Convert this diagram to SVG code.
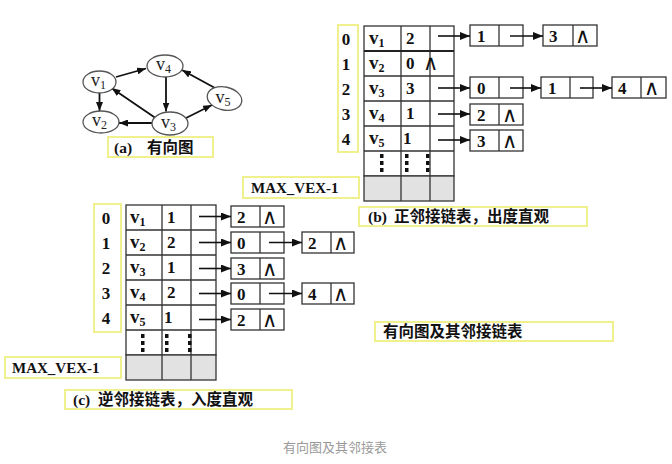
<svg xmlns="http://www.w3.org/2000/svg" width="672" height="464" viewBox="0 0 672 464">
<defs>
<marker id="ah" markerUnits="userSpaceOnUse" markerWidth="10" markerHeight="8" refX="10" refY="4" orient="auto"><path d="M0,0 L10,4 L0,8 z" fill="#111"/></marker>
<marker id="gh" markerUnits="userSpaceOnUse" markerWidth="9" markerHeight="7" refX="9" refY="3.5" orient="auto"><path d="M0,0 L9,3.5 L0,7 z" fill="#111"/></marker>
<style>
.cell{fill:#fff;stroke:#333;stroke-width:1.3}
.gray{fill:#e2e2e2;stroke:#333;stroke-width:1.3}
.ln{stroke:#333;stroke-width:1.3;fill:none}
.yb{fill:#fff;stroke:#f0f08c;stroke-width:2}
.t{font-family:'Liberation Serif','Noto Sans CJK SC',serif;font-weight:bold;fill:#111}
.num{font-size:17px}
.v{font-size:19px}
.sub{font-size:12px}
.nil{font-family:'DejaVu Sans',sans-serif;font-weight:200;font-size:21px;fill:#111;text-anchor:middle}
.cap{font-family:'Liberation Serif','Noto Sans CJK SC',serif;font-weight:bold;font-size:15.5px;fill:#111}
.cjk{font-family:'Noto Sans CJK SC',sans-serif;font-weight:bold}
.arr{stroke:#111;stroke-width:1.6;fill:none;marker-end:url(#ah)}
.ga{stroke:#111;stroke-width:1.8;fill:none;marker-end:url(#gh)}
.el{fill:#fff;stroke:#555;stroke-width:1.3}
.gt{font-family:'Liberation Serif',serif;font-size:18px;fill:#222}
.gs{font-size:12px}
.dot{fill:#111}
</style>
</defs>
<rect width="672" height="464" fill="#fff"/>

<!-- (a) graph -->
<g id="graph-a">
<g id="edges-a">
<line class="ga" x1="116" y1="77" x2="146" y2="68.5"/>
<line class="ga" x1="99.5" y1="93" x2="99.5" y2="111"/>
<line class="ga" x1="166" y1="77" x2="166" y2="111.5"/>
<line class="ga" x1="157" y1="119" x2="111.5" y2="88"/>
<line class="ga" x1="152" y1="123" x2="119" y2="123"/>
<line class="ga" x1="186" y1="118" x2="212" y2="105"/>
<line class="ga" x1="215" y1="88" x2="182" y2="70"/>
</g>
<g id="node-v1"><ellipse class="el" cx="99.5" cy="82" rx="16.5" ry="11"/><text class="gt" x="91" y="86">v<tspan class="gs" dy="3">1</tspan></text></g>
<g id="node-v4"><ellipse class="el" cx="165" cy="66" rx="18" ry="11"/><text class="gt" x="156" y="70">v<tspan class="gs" dy="3">4</tspan></text></g>
<g id="node-v5"><ellipse class="el" cx="224.5" cy="98.5" rx="17.5" ry="11.5" transform="rotate(12 224.5 98.5)"/><text class="gt" x="215.5" y="103">v<tspan class="gs" dy="3">5</tspan></text></g>
<g id="node-v2"><ellipse class="el" cx="101" cy="122" rx="18" ry="11"/><text class="gt" x="92" y="126">v<tspan class="gs" dy="3">2</tspan></text></g>
<g id="node-v3"><ellipse class="el" cx="170" cy="123.5" rx="18" ry="11.5"/><text class="gt" x="161" y="127.5">v<tspan class="gs" dy="3">3</tspan></text></g>
<g id="cap-a"><rect class="yb" x="108" y="137" width="105" height="20"/><text class="cap" x="114" y="152.5">(a)<tspan class="cjk" x="147">有向图</tspan></text></g>
</g>

<!-- (b) forward adjacency list -->
<g id="table-b">
<rect class="yb" x="338" y="25" width="20" height="127"/>
<g class="t num" text-anchor="middle">
<text x="346" y="44.5">0</text><text x="346" y="69.5">1</text><text x="346" y="94.5">2</text><text x="346" y="119.5">3</text><text x="346" y="144.5">4</text>
</g>
<rect class="cell" x="364" y="26" width="90" height="150"/>
<rect class="gray" x="364" y="176" width="90" height="25"/>
<path class="ln" d="M364,76H454M364,101H454M364,126H454M364,151H454M401,26V201M430,26V201"/>
<line x1="364" y1="51" x2="454" y2="51" stroke="#222" stroke-width="2.2"/>
<g class="t">
<text class="v" x="369" y="44">v<tspan class="sub" dy="3">1</tspan></text>
<text class="v" x="369" y="69">v<tspan class="sub" dy="3">2</tspan></text>
<text class="v" x="369" y="94">v<tspan class="sub" dy="3">3</tspan></text>
<text class="v" x="369" y="119">v<tspan class="sub" dy="3">4</tspan></text>
<text class="v" x="369" y="144">v<tspan class="sub" dy="3">5</tspan></text>
<text class="num" x="406" y="44">2</text>
<text class="num" x="406" y="69">0</text>
<text class="num" x="406" y="94">3</text>
<text class="num" x="406" y="119">1</text>
<text class="num" x="403" y="144">1</text>
</g>
<text class="nil" x="430" y="70">∧</text>
<g class="dot">
<rect x="380" y="154" width="3.5" height="4"/><rect x="380" y="161" width="3.5" height="4"/><rect x="380" y="168" width="3.5" height="4"/>
<rect x="405" y="154" width="3.5" height="4"/><rect x="405" y="161" width="3.5" height="4"/><rect x="405" y="168" width="3.5" height="4"/>
<rect x="426" y="154" width="3.5" height="4"/><rect x="426" y="161" width="3.5" height="4"/><rect x="426" y="168" width="3.5" height="4"/>
</g>
<g id="maxvex-b"><rect class="yb" x="243" y="177" width="116" height="21"/><text class="t" font-size="15" x="251" y="193">MAX_VEX-1</text></g>
</g>

<g id="nodes-b">
<g id="b-r0n1"><rect class="cell" x="470" y="25" width="53" height="21"/><line class="ln" x1="499" y1="25" x2="499" y2="46"/><text class="t num" x="477" y="42">1</text></g>
<g id="b-r0n2"><rect class="cell" x="543" y="25" width="54" height="21"/><line class="ln" x1="573" y1="25" x2="573" y2="46"/><text class="t num" x="549" y="42">3</text><text class="nil" x="582" y="43">∧</text></g>
<g id="b-r2n1"><rect class="cell" x="470" y="77" width="53" height="21"/><line class="ln" x1="499" y1="77" x2="499" y2="98"/><text class="t num" x="477" y="94">0</text></g>
<g id="b-r2n2"><rect class="cell" x="541" y="77" width="52" height="21"/><line class="ln" x1="570" y1="77" x2="570" y2="98"/><text class="t num" x="548" y="94">1</text></g>
<g id="b-r2n3"><rect class="cell" x="612" y="77" width="54" height="21"/><line class="ln" x1="641" y1="77" x2="641" y2="98"/><text class="t num" x="618" y="94">4</text><text class="nil" x="651" y="95">∧</text></g>
<g id="b-r3n1"><rect class="cell" x="470" y="104" width="53" height="21"/><line class="ln" x1="499" y1="104" x2="499" y2="125"/><text class="t num" x="477" y="121">2</text><text class="nil" x="509" y="122">∧</text></g>
<g id="b-r4n1"><rect class="cell" x="470" y="130" width="53" height="21"/><line class="ln" x1="499" y1="130" x2="499" y2="151"/><text class="t num" x="477" y="147">3</text><text class="nil" x="509" y="148">∧</text></g>
</g>

<g id="cap-b"><rect class="yb" x="359" y="207" width="228" height="19"/><text class="cap" x="368" y="222">(b)<tspan class="cjk" x="394">正邻接链表，出度直观</tspan></text></g>

<!-- (c) inverse adjacency list -->
<g id="table-c">
<rect class="yb" x="94" y="204" width="27" height="128"/>
<g class="t num" text-anchor="middle">
<text x="106" y="224">0</text><text x="106" y="249">1</text><text x="106" y="274">2</text><text x="106" y="299">3</text><text x="106" y="324">4</text>
</g>
<rect class="cell" x="126" y="205" width="90" height="150"/>
<rect class="gray" x="126" y="355" width="90" height="25"/>
<path class="ln" d="M126,230H216M126,255H216M126,280H216M126,305H216M126,330H216M162,205V380M191,205V380"/>
<g class="t">
<text class="v" x="130" y="223">v<tspan class="sub" dy="3">1</tspan></text>
<text class="v" x="130" y="248">v<tspan class="sub" dy="3">2</tspan></text>
<text class="v" x="130" y="273">v<tspan class="sub" dy="3">3</tspan></text>
<text class="v" x="130" y="298">v<tspan class="sub" dy="3">4</tspan></text>
<text class="v" x="130" y="323">v<tspan class="sub" dy="3">5</tspan></text>
<text class="num" x="167" y="223">1</text>
<text class="num" x="167" y="248">2</text>
<text class="num" x="167" y="273">1</text>
<text class="num" x="167" y="298">2</text>
<text class="num" x="164" y="323">1</text>
</g>
<g class="dot">
<rect x="141" y="334" width="3.5" height="4"/><rect x="141" y="341" width="3.5" height="4"/><rect x="141" y="348" width="3.5" height="4"/>
<rect x="165" y="334" width="3.5" height="4"/><rect x="165" y="341" width="3.5" height="4"/><rect x="165" y="348" width="3.5" height="4"/>
<rect x="188" y="334" width="3.5" height="4"/><rect x="188" y="341" width="3.5" height="4"/><rect x="188" y="348" width="3.5" height="4"/>
</g>
<g id="maxvex-c"><rect class="yb" x="5" y="357" width="116" height="21"/><text class="t" font-size="15" x="12" y="373">MAX_VEX-1</text></g>
</g>

<g id="nodes-c">
<g id="c-r0n1"><rect class="cell" x="231" y="206" width="53" height="21"/><line class="ln" x1="260" y1="206" x2="260" y2="227"/><text class="t num" x="237" y="223">2</text><text class="nil" x="269" y="224">∧</text></g>
<g id="c-r1n1"><rect class="cell" x="231" y="232" width="53" height="21"/><line class="ln" x1="260" y1="232" x2="260" y2="253"/><text class="t num" x="237" y="249">0</text></g>
<g id="c-r1n2"><rect class="cell" x="302" y="232" width="52" height="21"/><line class="ln" x1="331" y1="232" x2="331" y2="253"/><text class="t num" x="308" y="249">2</text><text class="nil" x="340" y="250">∧</text></g>
<g id="c-r2n1"><rect class="cell" x="231" y="258" width="53" height="21"/><line class="ln" x1="260" y1="258" x2="260" y2="279"/><text class="t num" x="237" y="275">3</text><text class="nil" x="269" y="276">∧</text></g>
<g id="c-r3n1"><rect class="cell" x="231" y="283" width="53" height="21"/><line class="ln" x1="260" y1="283" x2="260" y2="304"/><text class="t num" x="237" y="300">0</text></g>
<g id="c-r3n2"><rect class="cell" x="302" y="283" width="52" height="21"/><line class="ln" x1="331" y1="283" x2="331" y2="304"/><text class="t num" x="308" y="300">4</text><text class="nil" x="340" y="301">∧</text></g>
<g id="c-r4n1"><rect class="cell" x="231" y="309" width="53" height="21"/><line class="ln" x1="260" y1="309" x2="260" y2="330"/><text class="t num" x="237" y="326">2</text><text class="nil" x="269" y="327">∧</text></g>
</g>

<g id="cap-c"><rect class="yb" x="65" y="390" width="227" height="19"/><text class="cap" x="73" y="405">(c)<tspan class="cjk" x="98">逆邻接链表，入度直观</tspan></text></g>

<!-- connectors -->
<g id="connectors">
<line class="arr" x1="438" y1="36" x2="470" y2="36"/>
<line class="arr" x1="510" y1="36" x2="543" y2="36"/>
<line class="arr" x1="438" y1="88" x2="470" y2="88"/>
<line class="arr" x1="510" y1="88" x2="541" y2="88"/>
<line class="arr" x1="580" y1="88" x2="612" y2="88"/>
<line class="arr" x1="438" y1="114" x2="470" y2="114"/>
<line class="arr" x1="438" y1="140" x2="470" y2="140"/>
<line class="arr" x1="199" y1="216.5" x2="231" y2="216.5"/>
<line class="arr" x1="199" y1="242.5" x2="231" y2="242.5"/>
<line class="arr" x1="269" y1="242.5" x2="302" y2="242.5"/>
<line class="arr" x1="199" y1="268.5" x2="231" y2="268.5"/>
<line class="arr" x1="199" y1="293.5" x2="231" y2="293.5"/>
<line class="arr" x1="269" y1="293.5" x2="302" y2="293.5"/>
<line class="arr" x1="199" y1="319.5" x2="231" y2="319.5"/>
</g>

<g id="cap-main"><rect class="yb" x="375" y="322" width="238" height="19"/><text class="cap cjk" x="383" y="337">有向图及其邻接链表</text></g>
<text x="283" y="452" font-family="'Noto Sans CJK SC',sans-serif" font-size="13" fill="#999">有向图及其邻接表</text>
</svg>
